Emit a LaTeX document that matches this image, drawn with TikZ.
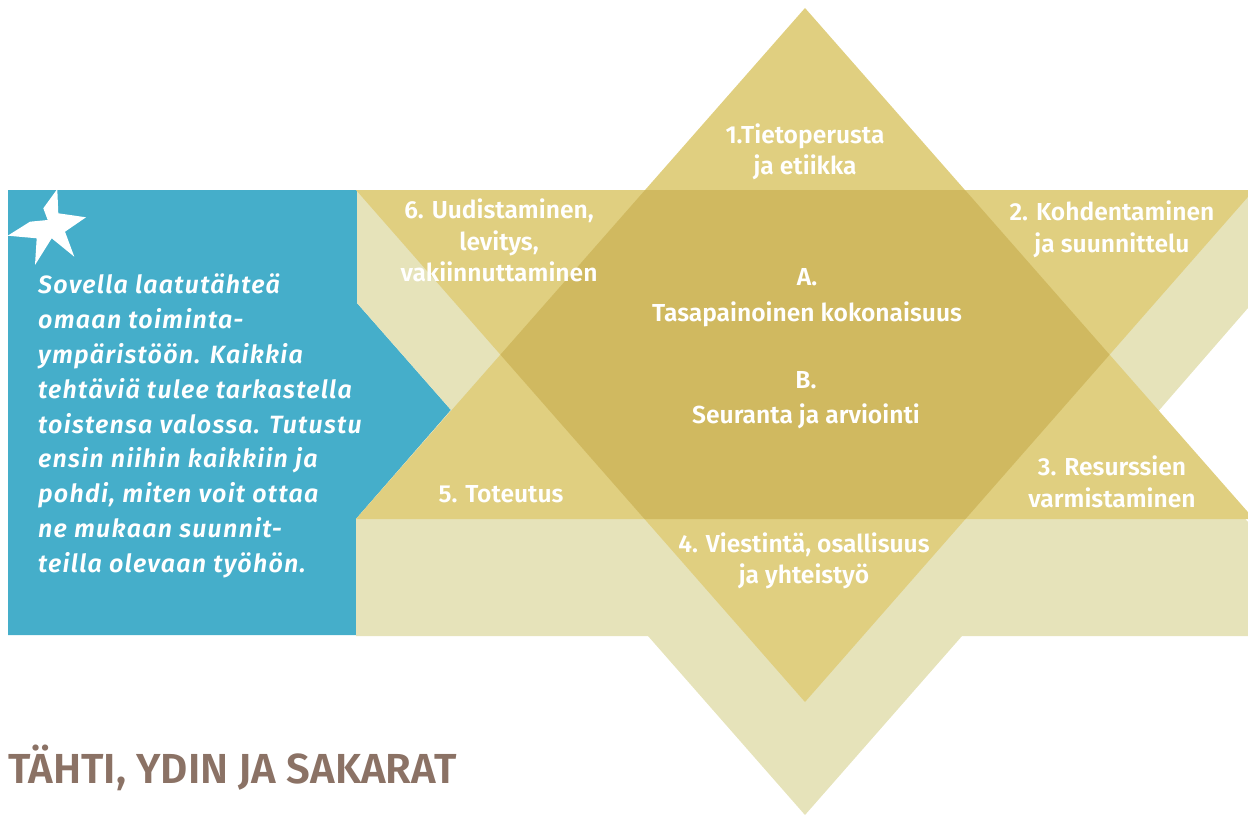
\documentclass[tikz,border=0pt]{standalone}
\usepackage{fontspec}
\setmainfont{Fira Sans}
\newfontfamily\labfont{Fira Sans SemiBold}
\newfontfamily\itfont{Fira Sans SemiBold Italic}[LetterSpace=5]
\definecolor{blu}{HTML}{45AECA}
\definecolor{yel}{HTML}{E0CF80}
\definecolor{dyel}{HTML}{D0B960}
\definecolor{pale}{HTML}{E6E3BA}
\definecolor{ttl}{HTML}{8B7265}
\tikzset{
  lab/.style={text=white, font=\labfont\fontsize{24.6}{28}\selectfont, anchor=base, inner sep=0pt},
  btxt/.style={text=white, font=\itfont\fontsize{25}{28}\selectfont, anchor=base west, inner sep=0pt},
  ttlstyle/.style={text=ttl, font=\labfont\fontsize{42}{48}\selectfont, anchor=base west, inner sep=0pt},
}
\begin{document}
\begin{tikzpicture}[x=1pt,y=-1pt]
\useasboundingbox (0,0) rectangle (1248,816);
\clip (0,0) rectangle (1248,816);
% blue panel
\fill[blu] (8,190) -- (357,190) -- (357,303) -- (451,410) -- (356,519) -- (356,635) -- (8,635) -- cycle;
% pale shadow
\fill[pale] (357,190) -- (1248,190) -- (1248,308) -- (1155,415) -- (1248,522) -- (1248,636)
  -- (962,636) -- (805,815) -- (648,636) -- (356,636) -- (356,519) -- (451,410) -- (357,303) -- cycle;
% triangles
\fill[yel] (805,8) -- (1254,519) -- (356,519) -- cycle;
\fill[yel] (356,190) -- (1254,190) -- (805,702) -- cycle;
% overlap hexagon
\fill[dyel] (645.1,190) -- (965,190) -- (1109.6,354.7) -- (965.5,519) -- (644.5,519) -- (500.4,354.7) -- cycle;
% star icon
\fill[white] (57.3,189) -- (58.3,213.3) -- (86,217.3) -- (65,231.7) -- (74.3,256.7) -- (51.7,238.3)
  -- (35,265) -- (36.7,238.3) -- (7.7,235.7) -- (30,221.7) -- (47.7,220) -- (43.3,208.3) -- cycle;
% labels
\node[lab] (l1a) at (805,143) {1.Tietoperusta};
\node[lab] (l1b) at (805,174) {ja etiikka};
\node[lab] (l2a) at (1112,220) {2. Kohdentaminen};
\node[lab] (l2b) at (1112,252) {ja suunnittelu};
\node[lab] (l3a) at (1112,475) {3. Resurssien};
\node[lab] (l3b) at (1112,507) {varmistaminen};
\node[lab] (l4a) at (804,552) {4. Viestintä, osallisuus};
\node[lab] (l4b) at (804,583) {ja yhteistyö};
\node[lab] (l5) at (501,502) {5. Toteutus};
\node[lab] (l6a) at (499,218) {6. Uudistaminen,};
\node[lab] (l6b) at (499,250) {levitys,};
\node[lab] (l6c) at (499,281) {vakiinnuttaminen};
\node[lab] (la1) at (807,285) {A.};
\node[lab] (la2) at (807,321) {Tasapainoinen kokonaisuus};
\node[lab] (lb1) at (806,388) {B.};
\node[lab] (lb2) at (806,423) {Seuranta ja arviointi};
% blue text
\node[btxt] (t1) at (38,293) {Sovella laatutähteä};
\node[btxt] (t2) at (38,328) {omaan toiminta-};
\node[btxt] (t3) at (38,363) {ympäristöön. Kaikkia};
\node[btxt] (t4) at (38,398) {tehtäviä tulee tarkastella};
\node[btxt] (t5) at (38,433) {toistensa valossa. Tutustu};
\node[btxt] (t6) at (38,467) {ensin niihin kaikkiin ja};
\node[btxt] (t7) at (38,502) {pohdi, miten voit ottaa};
\node[btxt] (t8) at (38,537) {ne mukaan suunnit-};
\node[btxt] (t9) at (38,572) {teilla olevaan työhön.};
% title
\node[ttlstyle] (title) at (8,783) {TÄHTI, YDIN JA SAKARAT};
\end{tikzpicture}
\end{document}
